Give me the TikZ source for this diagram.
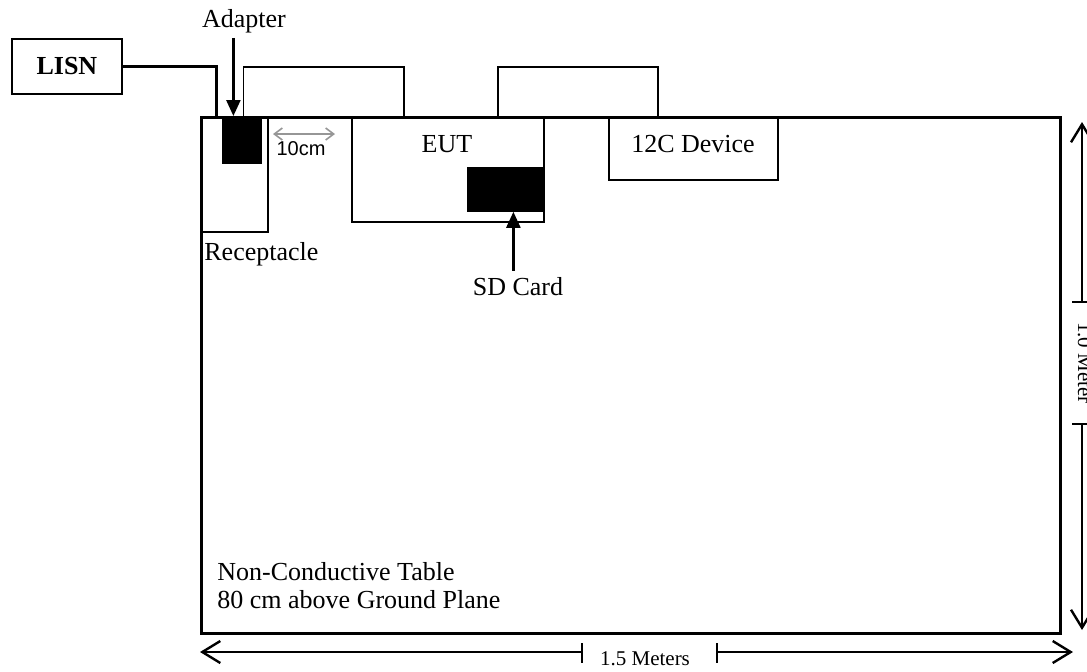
\documentclass[tikz,border=0pt]{standalone}
\usepackage{fontspec}
\setmainfont{Liberation Serif}
\newfontfamily\arialfont{Liberation Sans}
\usetikzlibrary{arrows.meta,positioning}

\definecolor{gapgrey}{RGB}{150,150,150}
\tikzset{
	txt/.style={font=\fontsize{13}{14}\selectfont, inner sep=0pt},
	box/.style={draw, line width=0.9pt, inner sep=0pt, anchor=north west},
	blackbox/.style={draw, fill=black, inner sep=0pt, anchor=north west},
	wire/.style={line width=0.9pt},
	ptr/.style={line width=1.2pt, -{Triangle[length=8pt,width=7pt]}},
	dim/.style={line width=0.7pt},
	dimtip/.style={line width=0.7pt, {Straight Barb[length=9pt,width=11pt,line width=1.2pt]}-},
	dimlbl/.style={font=\fontsize{10.5}{10.5}\selectfont, inner sep=0pt}
}

\begin{document}
\begin{tikzpicture}[x=0.5pt, y=-0.5pt]
	\useasboundingbox (0,0) rectangle (1087,671);

	\node[box, line width=1.5pt, minimum width=429.5pt, minimum height=258pt] (table) at (200,116) {};
	\node[box, font=\fontsize{13}{14}\selectfont\bfseries, minimum width=55pt, minimum height=27.5pt] (lisn) at (11,38) {LISN};
	\node[box, minimum width=33.5pt, minimum height=57.5pt] (recept) at (200,116) {};
	\node[blackbox, minimum width=19.5pt, minimum height=23.5pt] (adapter) at (222,116) {};
	\node[box, minimum width=96pt, minimum height=52.5pt] (eut) at (351,116) {};
	\node[blackbox, minimum width=38pt, minimum height=22pt] (sd) at (467,167) {};
	\node[box, minimum width=84.5pt, minimum height=31.5pt] (dev) at (608,116) {};

	% labels
	\node[txt, anchor=base] (adlbl) at (244,27) {Adapter};
	\node[txt, anchor=base west] (reclbl) at (204,260) {Receptacle};
	\node[txt, anchor=base] (euttxt) at (447,152) {EUT};
	\node[txt, anchor=base] (devtxt) at (693,152) {12C Device};
	\node[txt, anchor=base] (sdlbl) at (518,295) {SD Card};
	\node[inner sep=0pt, anchor=base, font=\arialfont\fontsize{10}{10}\selectfont] (tenlbl) at (301,155) {10cm};
	\node[txt, align=left, anchor=north west] (tbllbl) at (217,562) {Non-Conductive Table\\80 cm above Ground Plane};
	\node[dimlbl, anchor=base] (wlbl) at (645,665) {1.5 Meters};
	\node[dimlbl, anchor=base, rotate=-90] (hlbl) at (1078,363) {1.0 Meter};

	% cables
	\draw[line width=1.5pt] (lisn.east) -| ([xshift=-3pt]adapter.north west);
	\draw[wire] ([xshift=0.75pt]adapter.north) -- ++(0,-49) -| ([xshift=-22pt]eut.north);
	\draw[wire] ([xshift=25pt]eut.north) -- ++(0,-49) -| ([xshift=-17.75pt]dev.north);

	% pointers
	\coordinate (adtip) at ([xshift=-4.25pt]adapter.north);
	\draw[ptr, shorten <=2.5pt] (adtip |- adlbl.south) -- (adtip);
	\coordinate (sdtip) at ([xshift=4pt]sd.south);
	\draw[ptr, shorten <=3pt] (sdtip |- sdlbl.north) -- (sdtip);

	% 10cm gap
	\coordinate (gapL) at (273,134);
	\coordinate (gapR) at (335,134);
	\draw[gapgrey, line width=0.8pt, {Straight Barb[length=4pt,width=6pt]}-{Straight Barb[length=4pt,width=6pt]}] (gapL) -- (gapR);

	% width dimension
	\coordinate (wL) at (200,652);
	\coordinate (wR) at (1073,652);
	\draw[dimtip] (wL) -- (582,652);
	\draw[dimtip] (wR) -- (717,652);
	\draw[dim] (582,643) -- (582,663);
	\draw[dim] (717,643) -- (717,663);

	% height dimension
	\coordinate (hT) at (1082,122);
	\coordinate (hB) at (1082,630);
	\draw[dimtip] (hT) -- (1082,302);
	\draw[dimtip] (hB) -- (1082,424);
	\draw[dim] (1072,302) -- (1095,302);
	\draw[dim] (1072,424) -- (1095,424);
\end{tikzpicture}
\end{document}
